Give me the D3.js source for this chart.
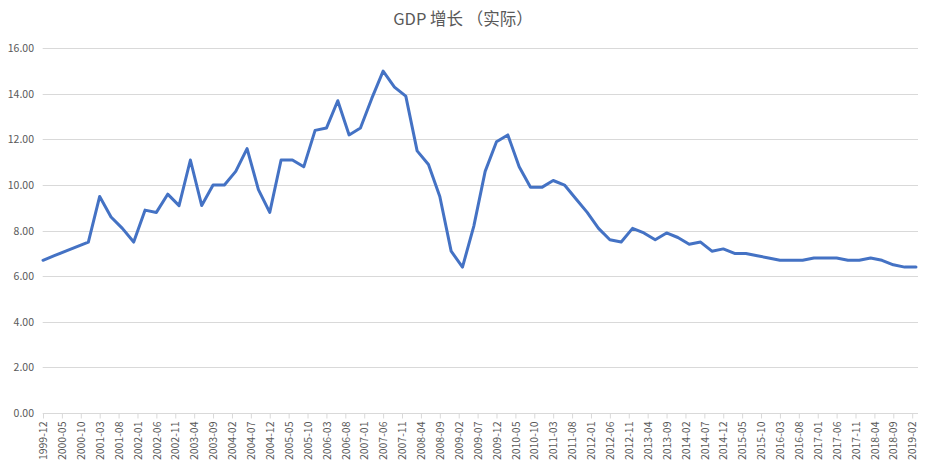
<!DOCTYPE html>
<html>
<head>
<meta charset="utf-8">
<script src="https://cdn.jsdelivr.net/npm/d3@7"></script>
<style>
  html, body { margin: 0; padding: 0; background: #fff; }
  svg { display: block; }
</style>
</head>
<body>
<div id="chart"></div>
<script>
const title = "GDP 增长 （实际）";
const dates = [
  "1999-12","2000-03","2000-06","2000-09","2000-12",
  "2001-03","2001-06","2001-09","2001-12",
  "2002-03","2002-06","2002-09","2002-12",
  "2003-03","2003-06","2003-09","2003-12",
  "2004-03","2004-06","2004-09","2004-12",
  "2005-03","2005-06","2005-09","2005-12",
  "2006-03","2006-06","2006-09","2006-12",
  "2007-03","2007-06","2007-09","2007-12",
  "2008-03","2008-06","2008-09","2008-12",
  "2009-03","2009-06","2009-09","2009-12",
  "2010-03","2010-06","2010-09","2010-12",
  "2011-03","2011-06","2011-09","2011-12",
  "2012-03","2012-06","2012-09","2012-12",
  "2013-03","2013-06","2013-09","2013-12",
  "2014-03","2014-06","2014-09","2014-12",
  "2015-03","2015-06","2015-09","2015-12",
  "2016-03","2016-06","2016-09","2016-12",
  "2017-03","2017-06","2017-09","2017-12",
  "2018-03","2018-06","2018-09","2018-12",
  "2019-03"
];
const gdpGrowth = [
  6.7, 6.9, 7.1, 7.3, 7.5,
  9.5, 8.6, 8.1, 7.5,
  8.9, 8.8, 9.6, 9.1,
  11.1, 9.1, 10.0, 10.0,
  10.6, 11.6, 9.8, 8.8,
  11.1, 11.1, 10.8, 12.4,
  12.5, 13.7, 12.2, 12.5,
  13.8, 15.0, 14.3, 13.9,
  11.5, 10.9, 9.5, 7.1,
  6.4, 8.2, 10.6, 11.9,
  12.2, 10.8, 9.9, 9.9,
  10.2, 10.0, 9.4, 8.8,
  8.1, 7.6, 7.5, 8.1,
  7.9, 7.6, 7.9, 7.7,
  7.4, 7.5, 7.1, 7.2,
  7.0, 7.0, 6.9, 6.8,
  6.7, 6.7, 6.7, 6.8,
  6.8, 6.8, 6.7, 6.7,
  6.8, 6.7, 6.5, 6.4,
  6.4
];
const yTicks = [0, 2, 4, 6, 8, 10, 12, 14, 16];
const startMonth = "1999-12";
const endMonth = "2019-02";
const tickStepMonths = 5;

const W = 930, H = 469;
const monthIndex = s => {
  const [y, m] = s.split("-").map(Number);
  const [y0, m0] = startMonth.split("-").map(Number);
  return (y - y0) * 12 + (m - m0);
};
const fmtMonth = i => {
  const [y0, m0] = startMonth.split("-").map(Number);
  const t = y0 * 12 + (m0 - 1) + i;
  const y = Math.floor(t / 12), m = t % 12 + 1;
  return y + "-" + String(m).padStart(2, "0");
};

const lastTick = monthIndex(endMonth);
const x = d3.scaleLinear().domain([0, lastTick]).range([43, 912.2]);
const plotRight = 918;
const y = d3.scaleLinear().domain([0, 16]).range([413, 48.3]);

const svg = d3.select("#chart").append("svg").attr("width", W).attr("height", H);
const font = "'Noto Sans CJK SC', 'Noto Sans', sans-serif";

svg.append("text")
  .attr("x", 463).attr("y", 25)
  .attr("text-anchor", "middle")
  .attr("font-family", font)
  .attr("font-size", 16.5)
  .attr("fill", "#595959")
  .text(title);

// gridlines
svg.append("g").selectAll("line").data(yTicks.filter(d => d > 0)).join("line")
  .attr("x1", 42.7).attr("x2", plotRight)
  .attr("y1", d => Math.round(y(d)) + 0.5).attr("y2", d => Math.round(y(d)) + 0.5)
  .attr("stroke", "#d9d9d9").attr("stroke-width", 1);

// y labels
svg.append("g").selectAll("text").data(yTicks).join("text")
  .attr("x", 34).attr("y", d => y(d) + 4)
  .attr("text-anchor", "end")
  .attr("font-family", font)
  .attr("font-size", 10.5)
  .attr("fill", "#595959")
  .text(d => d.toFixed(2));

// x axis
const tickVals = d3.range(0, lastTick + 1, tickStepMonths);
const xAxis = d3.axisBottom(x).tickValues(tickVals).tickSize(5).tickFormat(fmtMonth);
const gx = svg.append("g").attr("transform", `translate(0,${Math.round(y(0)) + 0.5})`).call(xAxis);
gx.select(".domain").attr("d", `M42.7,0H${plotRight}`).attr("stroke", "#d9d9d9");
gx.selectAll(".tick line").attr("stroke", "#d9d9d9");
gx.selectAll(".tick text")
  .attr("font-family", font)
  .attr("font-size", 10.5)
  .attr("fill", "#595959")
  .attr("text-anchor", "end")
  .attr("transform", "rotate(-90)")
  .attr("x", -8).attr("y", 0).attr("dy", "0.35em");

// line
const pts = dates.map((d, i) => ({ m: monthIndex(d), v: gdpGrowth[i] }));
svg.append("path")
  .datum(pts)
  .attr("fill", "none")
  .attr("stroke", "#4472C4")
  .attr("stroke-width", 3)
  .attr("stroke-linejoin", "round")
  .attr("stroke-linecap", "round")
  .attr("d", d3.line().x(d => x(d.m)).y(d => y(d.v)));
</script>
</body>
</html>
